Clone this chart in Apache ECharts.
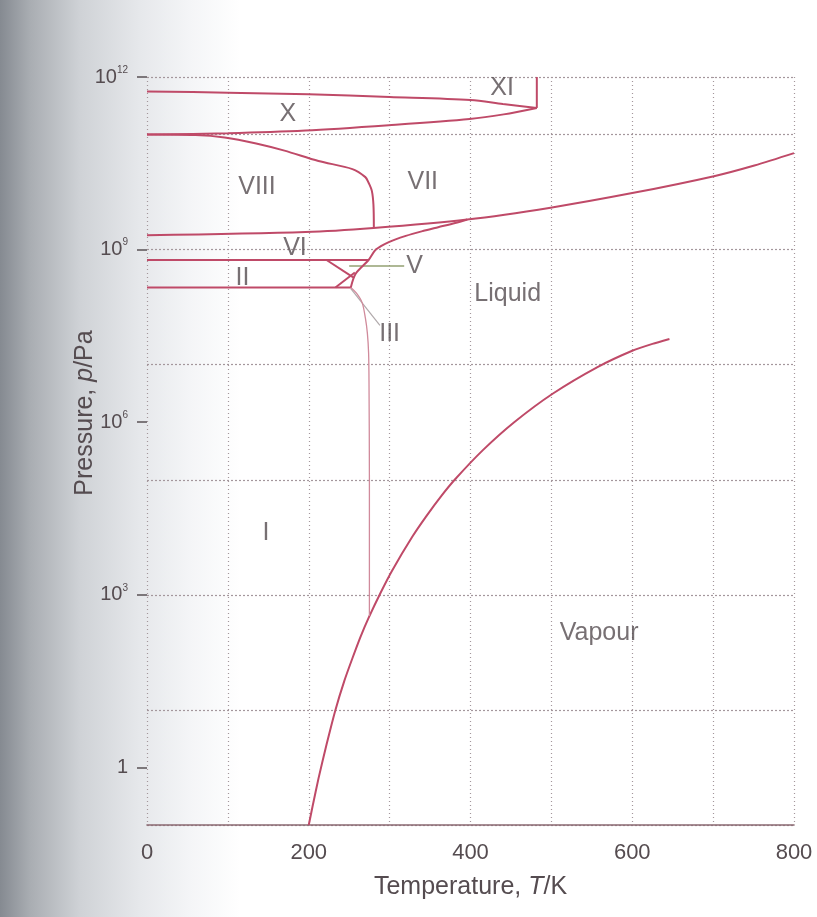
<!DOCTYPE html>
<html>
<head>
<meta charset="utf-8">
<script src="https://cdn.jsdelivr.net/npm/echarts@6/dist/echarts.min.js"></script>
<style>
  html, body { margin: 0; padding: 0; }
  body {
    width: 817px; height: 917px;
    background: linear-gradient(to right, #858a91 0px, #a9adb2 30px, #cfd2d6 80px, #e6e8eb 140px, #f4f5f7 190px, #ffffff 240px);
  }
  #chart { width: 817px; height: 917px; }
</style>
</head>
<body>
<div id="chart"></div>
<script>
// ---- Data (temperature in K, pressure in Pa) ----
const tempLabels = [0, 200, 400, 600, 800];
const pressureLabelExps = [0, 3, 6, 9, 12];

// sublimation + vaporisation curve (ends at critical point)
const vapT = [200, 205, 212, 222, 233, 244, 254, 264, 274, 289, 303, 328, 345, 364, 381, 415, 454, 502, 557, 600, 625, 646];
const vapP = [0.1, 0.22, 0.64, 2.5, 10, 32, 79, 186, 398, 1100, 2630, 1.02e4, 2.29e4, 5.25e4, 1.02e5, 3.24e5, 1.0e6, 3.16e6, 9.1e6, 1.75e7, 2.3e7, 2.8e7];

// ice I / liquid melting curve
const meltIT = [252, 259, 266, 270, 272.5, 274, 274.5, 275, 275];
const meltIP = [2.2e8, 1.75e8, 1.2e8, 6.5e7, 3.5e7, 1.6e7, 5e6, 1e5, 430];

// ice III, V, VI / liquid melting curve
const meltHighT = [252, 258, 274, 283, 299, 320, 341, 360, 381, 396];
const meltHighP = [2.2e8, 3.8e8, 6.6e8, 1.0e9, 1.35e9, 1.73e9, 2.1e9, 2.45e9, 2.9e9, 3.34e9];

// VI / VIII-VII boundary continuing as VII / liquid curve
const lineAT = [0, 196, 280, 396, 499, 600, 701, 751, 800];
const lineAP = [1.77e9, 2.02e9, 2.38e9, 3.34e9, 5.36e9, 9.6e9, 1.89e10, 2.9e10, 4.75e10];

// VIII / VII boundary
const viiiT = [0, 60, 96, 135, 170, 212, 254, 270, 274, 278, 280, 280.5];
const viiiP = [1.0e11, 9.8e10, 8.9e10, 7.0e10, 5.25e10, 3.47e10, 2.51e10, 1.82e10, 1.45e10, 1.05e10, 6e9, 2.38e9];

// II / VI and I / II boundaries
const lineBT = [0, 274];
const lineBP = [6.6e8, 6.6e8];
const lineCT = [0, 252];
const lineCP = [2.2e8, 2.2e8];

// II / V and II / III boundaries
const diag1T = [222, 255];
const diag1P = [6.6e8, 3.3e8];
const diag2T = [233, 257];
const diag2P = [2.2e8, 4.0e8];

// ice X boundaries and X / XI boundary
const xUpT = [0, 100, 200, 300, 400, 440, 482];
const xUpP = [5.6e11, 5.35e11, 5.0e11, 4.5e11, 4.0e11, 3.4e11, 2.9e11];
const xLowT = [0, 100, 196, 299, 399, 441, 482];
const xLowP = [1.0e11, 1.05e11, 1.17e11, 1.45e11, 1.86e11, 2.24e11, 2.9e11];
const xiT = [482, 482];
const xiP = [2.9e11, 1e12];

// pointer lines for V and III
const ptrVT = [250, 318];
const ptrVP = [5.2e8, 5.2e8];
const ptrIIIT = [252, 288];
const ptrIIIP = [2.1e8, 4.8e7];

// region labels
const regionNames = ['XI', 'X', 'VIII', 'VII', 'VI', 'II', 'V', 'III', 'Liquid', 'I', 'Vapour'];
const regionT = [439, 174, 136, 341, 183, 118, 331, 300, 446, 147, 559];
const regionP = [6.3e11, 2.3e11, 1.24e10, 1.5e10, 1.08e9, 3.2e8, 5.2e8, 3.4e7, 1.7e8, 1.2e4, 218];

// ---- Build chart ----
const zip = (a, b) => a.map((v, i) => [v, b[i]]);
const LINE = '#bf4a68';
const TEXT = '#554c50';
const FONT = 'Liberation Sans, Arial, sans-serif';

function curve(t, p, opts) {
  opts = opts || {};
  return {
    type: 'line', xAxisIndex: 0, yAxisIndex: 0,
    data: zip(t, p), showSymbol: false, symbol: 'none', silent: true,
    smooth: opts.smooth || false,
    lineStyle: { color: opts.color || LINE, width: opts.width || 2 },
    z: opts.z || 3
  };
}

const chart = echarts.init(document.getElementById('chart'), null, { renderer: 'canvas' });
const gridColor = '#a4979c';

const option = {
  backgroundColor: 'transparent',
  animation: false,
  grid: { left: 147, right: 23, top: 77, bottom: 92, containLabel: false },
  xAxis: [{
    type: 'value', min: 0, max: 800, interval: 100,
    axisLine: { show: true, onZero: false, lineStyle: { color: '#8a6a72', width: 1.6 } },
    axisTick: { show: false },
    axisLabel: {
      margin: 17, fontSize: 22, color: TEXT, fontFamily: FONT,
      formatter: v => (tempLabels.indexOf(v) >= 0 ? String(v) : '')
    },
    splitLine: { show: true, lineStyle: { color: gridColor, type: [1, 3], width: 1.2 } },
    name: '{n|Temperature, }{i|T}{n|/K}',
    nameLocation: 'middle', nameGap: 50,
    nameTextStyle: {
      padding: [0, 0, 0, 0],
      rich: {
        n: { fontSize: 25, color: TEXT, fontFamily: FONT },
        i: { fontSize: 25, color: TEXT, fontFamily: FONT, fontStyle: 'italic' }
      }
    }
  }],
  yAxis: [
    {
      type: 'log', logBase: 10, min: 0.1, max: 1e12, position: 'left',
      axisLine: { show: false }, axisTick: { show: false },
      axisLabel: { show: false }, splitLine: { show: false }
    },
    {
      type: 'value', min: -1, max: 12, interval: 3, position: 'left',
      axisLine: { show: false },
      axisTick: { show: true, inside: false, length: 10, customValues: pressureLabelExps,
        lineStyle: { color: '#5a5256', width: 1.5 } },
      axisLabel: {
        customValues: pressureLabelExps,
        margin: 19, color: TEXT, fontFamily: FONT,
        formatter: v => (v === 0 ? '{b|1}' : (pressureLabelExps.indexOf(v) >= 0 ? '{b|10}{s|' + v + '}' : '')),
        rich: {
          b: { fontSize: 20, color: TEXT, fontFamily: FONT, lineHeight: 24 },
          s: { fontSize: 10, color: TEXT, fontFamily: FONT, verticalAlign: 'top', lineHeight: 24, padding: [0, 0, 12, 0] }
        }
      },
      splitLine: { show: false }
    },
    {
      type: 'value', min: 0, max: 13, interval: 2, position: 'right',
      axisLine: { show: false }, axisTick: { show: false }, axisLabel: { show: false },
      splitLine: { show: true, lineStyle: { color: gridColor, type: [2, 2], width: 1.2 } }
    }
  ],
  graphic: [{
    type: 'text', x: 85, y: 413, rotation: Math.PI / 2, silent: true,
    style: {
      text: '{n|Pressure, }{i|p}{n|/Pa}',
      align: 'center', verticalAlign: 'middle',
      rich: {
        n: { fontSize: 25, fill: TEXT, fontFamily: FONT },
        i: { fontSize: 25, fill: TEXT, fontFamily: FONT, fontStyle: 'italic' }
      }
    }
  }],
  series: [
    curve(vapT, vapP, { smooth: 0.2 }),
    curve(meltIT, meltIP, { color: '#d08a9b', width: 1.3, smooth: 0.3 }),
    curve(meltHighT, meltHighP, { smooth: 0.3 }),
    curve(lineAT, lineAP, { smooth: 0.3 }),
    curve(viiiT, viiiP, { smooth: 0.3 }),
    curve(lineBT, lineBP),
    curve(lineCT, lineCP),
    curve(diag1T, diag1P),
    curve(diag2T, diag2P),
    curve(xUpT, xUpP, { smooth: 0.3 }),
    curve(xLowT, xLowP, { smooth: 0.3 }),
    curve(xiT, xiP),
    curve(ptrVT, ptrVP, { color: '#93a072', width: 1.6, z: 2 }),
    curve(ptrIIIT, ptrIIIP, { color: '#b0a9ab', width: 1.2, z: 2 }),
    {
      type: 'scatter', xAxisIndex: 0, yAxisIndex: 0, symbolSize: 0, silent: true,
      data: regionNames.map((n, i) => [regionT[i], regionP[i], n]),
      label: {
        show: true, position: 'inside', formatter: p => p.data[2],
        fontSize: 25, color: TEXT, fontFamily: FONT
      },
      z: 5
    }
  ]
};
chart.setOption(option);
</script>
</body>
</html>
